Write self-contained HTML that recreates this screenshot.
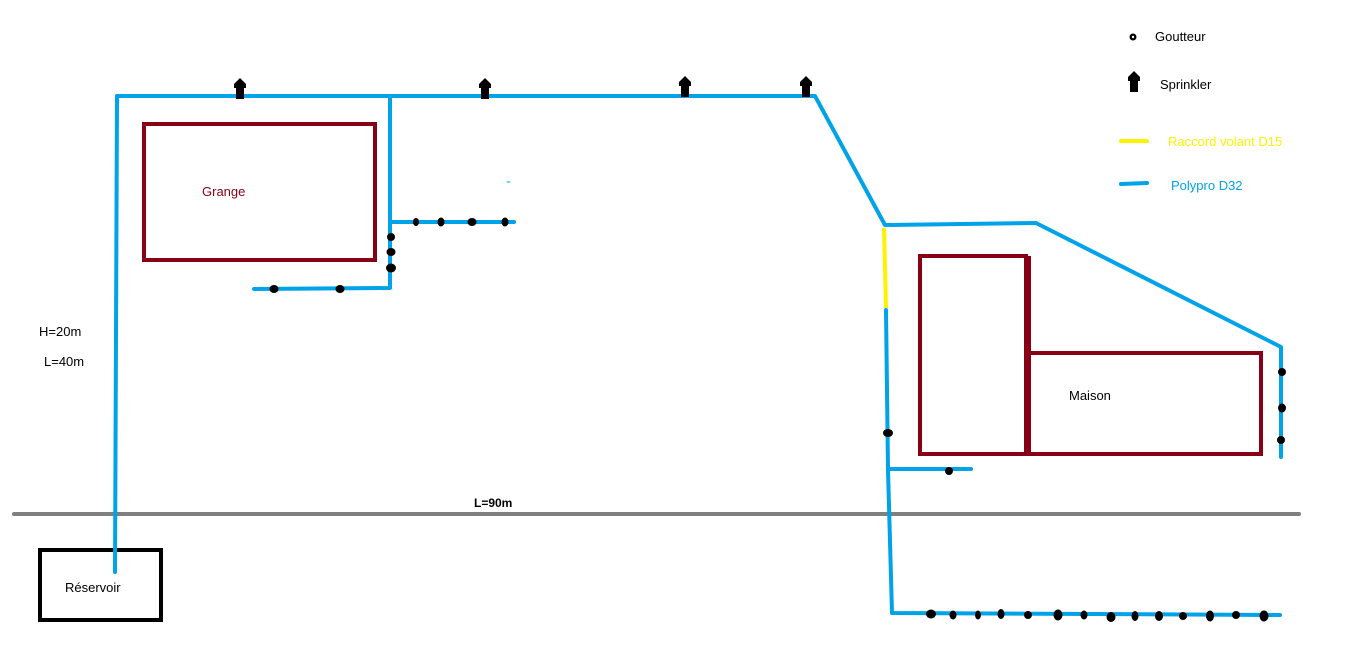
<!DOCTYPE html>
<html><head><meta charset="utf-8"><style>
html,body{margin:0;padding:0;background:#fff;width:1345px;height:649px;overflow:hidden}
svg{display:block}
text{font-family:"Liberation Sans","DejaVu Sans",sans-serif;font-size:13px}
</style></head><body>
<svg width="1345" height="649" viewBox="0 0 1345 649" xmlns="http://www.w3.org/2000/svg">
<defs>
<path id="sp" d="M0,-13 L6,-7 L6,-3 L4,-3 L4,8 L-4,8 L-4,-3 L-6,-3 L-6,-7 Z" fill="#000"/>
</defs>
<line x1="14" y1="514" x2="1299" y2="514" stroke="#7f7f7f" stroke-width="4" stroke-linecap="round"/>
<rect x="144" y="124" width="231" height="136" fill="none" stroke="#880015" stroke-width="4"/>
<rect x="920" y="256" width="106" height="198" fill="none" stroke="#880015" stroke-width="4"/>
<rect x="1029" y="353" width="232" height="101" fill="none" stroke="#880015" stroke-width="4"/>
<line x1="1028" y1="256" x2="1028" y2="456" stroke="#880015" stroke-width="6"/>
<rect x="40" y="550" width="121" height="70" fill="none" stroke="#000" stroke-width="4"/>
<g fill="none" stroke="#00a2e8" stroke-width="4" stroke-linecap="round" stroke-linejoin="round">
<polyline points="115,572 117,96 815,96 885,225 1036,223 1281,347 1281,457"/>
<polyline points="390,98 390,288 254,289"/>
<line x1="390" y1="222" x2="514" y2="222"/>
<polyline points="886,310 888,470 892,613 1280,615"/>
<line x1="889" y1="469" x2="971" y2="469"/>
<line x1="1121" y1="184" x2="1147" y2="183"/>
<line x1="507" y1="182" x2="510" y2="182" stroke-width="1"/>
</g>
<line x1="884" y1="228" x2="886" y2="308" stroke="#fff200" stroke-width="4"/>
<line x1="1121" y1="141" x2="1147" y2="141" stroke="#fff200" stroke-width="4" stroke-linecap="round"/>
<use href="#sp" x="240" y="91"/>
<use href="#sp" x="485" y="91"/>
<use href="#sp" x="685" y="89"/>
<use href="#sp" x="806" y="89"/>
<use href="#sp" x="1134" y="84"/>
<g fill="#000">
<ellipse cx="416" cy="222" rx="3" ry="4"/><ellipse cx="441" cy="222" rx="3.5" ry="4.5"/><ellipse cx="472" cy="222" rx="4.5" ry="4"/><ellipse cx="505" cy="222" rx="3.5" ry="4.5"/>
<ellipse cx="391" cy="237" rx="4" ry="4"/><ellipse cx="391" cy="252" rx="4.5" ry="4"/><ellipse cx="391" cy="268" rx="5" ry="4.5"/>
<ellipse cx="274" cy="289" rx="4.5" ry="4"/><ellipse cx="340" cy="289" rx="4.5" ry="4"/>
<ellipse cx="888" cy="433" rx="5" ry="4"/><ellipse cx="949" cy="471" rx="4" ry="4"/>
<ellipse cx="1282" cy="372" rx="4" ry="4"/><ellipse cx="1282" cy="408" rx="4" ry="4.5"/><ellipse cx="1281" cy="440" rx="4" ry="4"/>
<ellipse cx="931" cy="614" rx="5" ry="4.5"/><ellipse cx="953" cy="615" rx="3.5" ry="4.5"/><ellipse cx="978" cy="615" rx="3" ry="4.5"/><ellipse cx="1001" cy="614" rx="3.5" ry="5"/><ellipse cx="1028" cy="615" rx="4" ry="4"/><ellipse cx="1058" cy="615" rx="4.5" ry="5.5"/><ellipse cx="1084" cy="615" rx="3.5" ry="4.5"/><ellipse cx="1111" cy="617" rx="4.5" ry="5"/><ellipse cx="1135" cy="616" rx="3.5" ry="5"/><ellipse cx="1159" cy="616" rx="4" ry="5"/><ellipse cx="1183" cy="616" rx="4" ry="4"/><ellipse cx="1210" cy="616" rx="4" ry="5.5"/><ellipse cx="1236" cy="615" rx="4" ry="4"/><ellipse cx="1264" cy="616" rx="4.5" ry="5.5"/>
<circle cx="1133" cy="37" r="3.5"/>
</g>
<circle cx="1133" cy="37" r="1.2" fill="#fff"/>
<text x="202" y="196" fill="#880015">Grange</text>
<text x="1069" y="400" fill="#000">Maison</text>
<text x="65" y="592" fill="#000">Réservoir</text>
<text x="39" y="336" fill="#000">H=20m</text>
<text x="44" y="366" fill="#000">L=40m</text>
<text x="474" y="507" fill="#000" font-weight="bold" style="font-size:12px">L=90m</text>
<text x="1155" y="41" fill="#000">Goutteur</text>
<text x="1160" y="89" fill="#000">Sprinkler</text>
<text x="1168" y="146" fill="#fff200">Raccord volant D15</text>
<text x="1171" y="190" fill="#00a2e8">Polypro D32</text>
</svg>
</body></html>
